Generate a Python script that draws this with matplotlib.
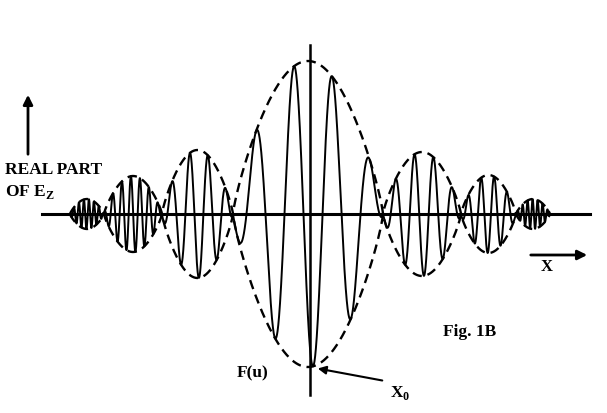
import numpy as np
import matplotlib
matplotlib.use("Agg")
import matplotlib.pyplot as plt

# lobes of the envelope F(u), x measured from the vertical axis
lobe_edges = [-238, -204, -146, -75, 75, 153, 208, 242]
lobe_heights = [15, 38, 64, 153, 62, 39, 15]
carrier_periods = [5, 9, 18, 38, 19, 13, 5]
carrier_center = 5

plt.rcParams['font.family'] = ['Liberation Serif', 'DejaVu Serif']
plt.rcParams['font.weight'] = 'bold'
plt.rcParams['mathtext.fontset'] = 'custom'
plt.rcParams['mathtext.rm'] = 'Liberation Serif:bold'
plt.rcParams['mathtext.bf'] = 'Liberation Serif:bold'

fig = plt.figure(figsize=(6.07, 4.13), dpi=100)
ax = fig.add_axes((0, 0, 1, 1))
ax.set_xlim(-308, 299)
ax.set_ylim(-199, 214)
ax.axis('off')

x = np.linspace(lobe_edges[0], lobe_edges[-1], 6000)
env = np.zeros_like(x)
period = np.ones_like(x) * carrier_periods[0]
for i in range(len(lobe_heights)):
    a, b = lobe_edges[i], lobe_edges[i + 1]
    m = (x >= a) & (x <= b)
    s = (x[m] - a) / (b - a)
    env[m] = lobe_heights[i] * np.sin(np.pi * s) ** 0.8
    period[m] = carrier_periods[i]

dx = x[1] - x[0]
phase = np.cumsum(2 * np.pi / period) * dx
phase = phase - np.interp(carrier_center, x, phase) + np.pi
wave = env * np.cos(phase)

ax.plot(x, wave, color='black', lw=1.4)
ax.plot(x, env, color='black', lw=1.7, ls=(0, (4, 2.5)))
ax.plot(x, -env, color='black', lw=1.7, ls=(0, (4, 2.5)))

# axes
ax.plot([-266, 282], [0, 0], color='black', lw=2.2)
ax.plot([2, 2], [169, -181], color='black', lw=1.8)

# arrows
ax.annotate('', xy=(-280, 122), xytext=(-280, 57),
            arrowprops=dict(arrowstyle='-|>', color='black', lw=2, mutation_scale=14))
ax.annotate('', xy=(282, -41), xytext=(220, -41),
            arrowprops=dict(arrowstyle='-|>', color='black', lw=2, mutation_scale=14))
ax.annotate('', xy=(7, -154), xytext=(77, -167),
            arrowprops=dict(arrowstyle='-|>', color='black', lw=1.5, mutation_scale=12))

ax.text(-303, 44, 'REAL PART', fontsize=12.5, ha='left', va='center')
ax.text(-303, 22, r'OF E$_{\mathrm{Z}}$', fontsize=12.5, ha='left', va='center')
ax.text(239, -53, 'X', fontsize=12, ha='center', va='center')
ax.text(162, -118, 'Fig. 1B', fontsize=12.5, ha='center', va='center')
ax.text(-55, -159, 'F(u)', fontsize=12.5, ha='center', va='center')
ax.text(92, -179, r'X$_{0}$', fontsize=12.5, ha='center', va='center')

fig.savefig('out.png', dpi=100)
